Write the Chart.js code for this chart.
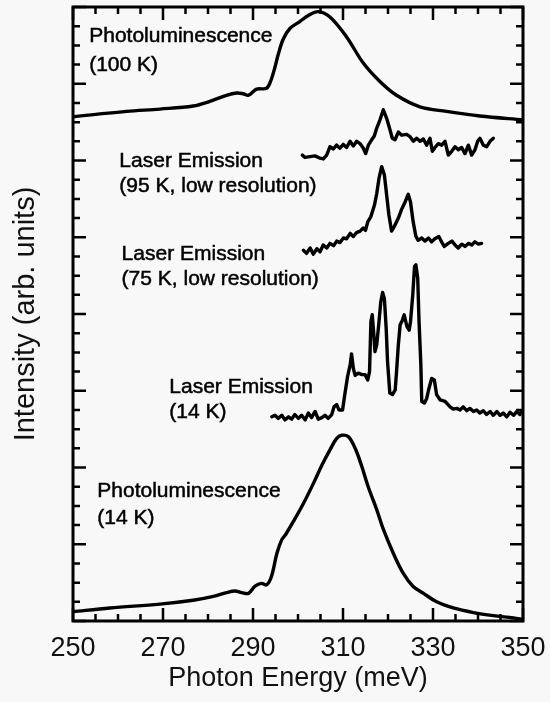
<!DOCTYPE html>
<html>
<head>
<meta charset="utf-8">
<script src="https://cdn.jsdelivr.net/npm/chart.js@4"></script>
<style>
    html, body { margin: 0; padding: 0; background: #f8f8f8; }
    #wrap { width: 550px; height: 702px; }
</style>
</head>
<body>
<div id="wrap"><canvas id="spectra" width="550" height="702"></canvas></div>
<script>

// Photoluminescence at 100 K (top curve)
var pl100Energy = [250, 261.9, 269.3, 276.7, 280.4, 284.1, 286.4, 287.8, 289.0, 290.8, 293.0, 293.9, 294.9, 295.6, 296.7, 298.2, 300.4, 302.3, 304.5, 307.1, 310.8, 314.5, 318.2, 321.9, 327.1, 333.0, 340.4, 350];
var pl100Intensity = [6.57, 6.64, 6.67, 6.71, 6.77, 6.85, 6.88, 6.87, 6.85, 6.93, 6.94, 7.03, 7.22, 7.38, 7.58, 7.72, 7.81, 7.89, 7.94, 7.87, 7.61, 7.27, 7.03, 6.85, 6.70, 6.64, 6.58, 6.53];

// Laser emission at 95 K, low resolution
var laser95Energy = [300.96, 301.56, 302.67, 303.78, 304.89, 305.63, 306.37, 307.11, 307.85, 308.59, 309.33, 310.07, 310.81, 311.56, 312.30, 313.04, 313.78, 314.52, 315.04, 315.63, 316.37, 316.96, 317.48, 318.22, 318.96, 319.70, 320.44, 320.96, 321.56, 322.30, 323.04, 324.15, 324.89, 325.63, 326.37, 327.11, 327.85, 328.59, 329.33, 329.85, 330.44, 331.19, 331.93, 332.67, 333.41, 334.15, 334.89, 335.63, 336.37, 337.11, 337.85, 338.59, 339.33, 339.93, 340.44, 341.19, 341.93, 342.67, 343.41];
var laser95Intensity = [6.07, 6.04, 6.05, 6.06, 6.03, 6.02, 6.07, 6.18, 6.15, 6.20, 6.16, 6.21, 6.17, 6.25, 6.19, 6.25, 6.22, 6.16, 6.09, 6.20, 6.27, 6.32, 6.42, 6.53, 6.66, 6.55, 6.40, 6.29, 6.27, 6.37, 6.33, 6.34, 6.31, 6.25, 6.29, 6.25, 6.28, 6.20, 6.29, 6.12, 6.17, 6.22, 6.20, 6.25, 6.07, 6.12, 6.18, 6.14, 6.17, 6.09, 6.20, 6.07, 6.14, 6.25, 6.29, 6.20, 6.18, 6.25, 6.29];

// Laser emission at 75 K, low resolution
var laser75Energy = [301.2, 301.9, 302.7, 303.4, 304.2, 304.9, 305.6, 306.4, 307.1, 307.9, 308.6, 309.3, 310.1, 310.8, 311.6, 312.3, 313.0, 313.8, 314.5, 315.0, 315.5, 316.2, 317.0, 317.5, 318.0, 318.6, 319.2, 319.7, 320.2, 320.8, 321.4, 322.3, 323.0, 323.8, 324.5, 325.0, 325.6, 326.2, 326.7, 327.5, 328.2, 329.0, 329.7, 330.4, 331.3, 331.9, 332.5, 333.4, 334.2, 334.9, 335.6, 336.4, 337.1, 337.9, 338.6, 339.3, 340.1, 340.8];
var laser75Intensity = [4.83, 4.79, 4.86, 4.78, 4.85, 4.81, 4.90, 4.86, 4.92, 4.89, 4.95, 4.93, 4.99, 4.98, 5.05, 5.01, 5.06, 5.08, 5.12, 5.09, 5.20, 5.27, 5.42, 5.57, 5.77, 5.92, 5.81, 5.55, 5.29, 5.08, 5.14, 5.25, 5.36, 5.46, 5.56, 5.46, 5.20, 5.01, 4.96, 4.99, 4.95, 4.99, 4.94, 4.98, 5.01, 4.94, 4.88, 4.92, 4.95, 4.90, 4.86, 4.91, 4.88, 4.92, 4.90, 4.94, 4.91, 4.92];

// Laser emission at 14 K
var laser14Energy = [294.2, 294.9, 295.6, 296.4, 297.1, 297.9, 298.6, 299.3, 300.1, 300.8, 301.6, 302.3, 303.0, 303.8, 304.5, 305.3, 306.0, 306.7, 307.5, 308.0, 308.6, 309.1, 309.9, 310.4, 311.0, 311.6, 311.9, 312.3, 312.7, 313.4, 314.2, 314.9, 315.5, 315.9, 316.2, 316.5, 316.8, 317.1, 317.5, 318.0, 318.4, 318.8, 319.2, 319.6, 319.9, 320.4, 321.0, 321.6, 321.9, 322.3, 322.7, 323.2, 323.6, 324.2, 324.7, 325.0, 325.5, 325.9, 326.2, 326.6, 326.9, 327.3, 327.5, 328.1, 328.6, 329.1, 329.7, 330.3, 330.8, 331.6, 332.7, 333.8, 334.5, 335.3, 336.0, 336.7, 337.5, 338.2, 339.0, 339.7, 340.4, 341.2, 341.9, 342.7, 343.4, 344.2, 344.9, 345.6, 346.4, 347.1, 347.9, 348.6, 349.3, 349.7];
var laser14Intensity = [2.66, 2.68, 2.64, 2.68, 2.62, 2.66, 2.63, 2.69, 2.64, 2.68, 2.62, 2.71, 2.65, 2.73, 2.63, 2.65, 2.68, 2.64, 2.69, 2.79, 2.82, 2.75, 2.75, 2.95, 3.18, 3.34, 3.48, 3.29, 3.20, 3.23, 3.21, 3.21, 3.14, 3.25, 3.90, 3.99, 3.77, 3.51, 3.60, 3.90, 4.16, 4.28, 4.20, 3.81, 3.38, 2.97, 2.95, 3.01, 3.25, 3.60, 3.86, 3.92, 3.99, 3.84, 3.79, 3.90, 4.25, 4.62, 4.64, 4.47, 3.90, 3.34, 2.86, 2.84, 2.90, 3.03, 3.16, 3.14, 2.95, 2.88, 2.86, 2.79, 2.76, 2.77, 2.75, 2.79, 2.74, 2.77, 2.73, 2.75, 2.71, 2.74, 2.69, 2.73, 2.68, 2.73, 2.68, 2.71, 2.66, 2.72, 2.68, 2.73, 2.69, 2.73];

// Photoluminescence at 14 K (bottom curve)
var pl14Energy = [250, 258.2, 269.3, 276.7, 281.2, 284.1, 286.0, 287.5, 289.0, 290.4, 291.9, 293.0, 294.1, 295.3, 296.4, 297.3, 299.3, 301.2, 303.4, 305.3, 307.1, 308.6, 309.7, 311.2, 312.7, 314.2, 315.6, 317.5, 319.0, 321.2, 323.4, 325.6, 327.9, 330.8, 334.5, 339.0, 343.4, 347.9, 350];
var pl14Intensity = [0.12, 0.17, 0.22, 0.27, 0.32, 0.37, 0.39, 0.37, 0.36, 0.45, 0.49, 0.47, 0.58, 0.88, 1.06, 1.13, 1.33, 1.53, 1.79, 2.03, 2.23, 2.38, 2.42, 2.40, 2.25, 2.01, 1.75, 1.45, 1.19, 0.88, 0.62, 0.45, 0.36, 0.25, 0.17, 0.11, 0.07, 0.04, 0.02];

var energyTickLabels = [250, 270, 290, 310, 330, 350];

// Curve captions, anchored at (energy, intensity) of each line's left baseline
var captionTexts = ['Photoluminescence', '(100 K)', 'Laser Emission', '(95 K, low resolution)', 'Laser Emission', '(75 K, low resolution)', 'Laser Emission', '(14 K)', 'Photoluminescence', '(14 K)'];
var captionEnergy = [253.6, 253.6, 260.3, 260.3, 260.8, 260.8, 271.4, 271.4, 255.4, 255.4];
var captionIntensity = [7.55, 7.16, 5.92, 5.59, 4.70, 4.38, 2.97, 2.64, 1.62, 1.26];

var fontFamily = '"Liberation Sans", Arial, Helvetica, sans-serif';

var toPoints = function (xs, ys) {
    return xs.map(function (x, i) {
        return { x: x, y: ys[i] };
    });
};

var curve = function (xs, ys, smooth) {
    return {
        data: toPoints(xs, ys),
        showLine: true,
        borderColor: '#000',
        borderWidth: 3.4,
        pointRadius: 0,
        tension: smooth ? 0.35 : 0,
        borderJoinStyle: 'round',
        borderCapStyle: 'round'
    };
};

var isMajor = function (v, start, step) {
    var r = (v - start) / step;
    return Math.abs(r - Math.round(r)) < 1e-6;
};

// Inward tick marks on all four sides of the box, plus the box itself
var frameTicks = {
    id: 'frameTicks',
    afterDatasetsDraw: function (chart) {
        var ctx = chart.ctx;
        var area = chart.chartArea;
        var xs = chart.scales.x;
        var ys = chart.scales.y;

        ctx.save();
        ctx.strokeStyle = '#000';
        ctx.lineWidth = 2.5;
        ctx.beginPath();
        xs.ticks.forEach(function (t) {
            var px = xs.getPixelForValue(t.value);
            var len = isMajor(t.value, 250, 20) ? 13 : 7;
            ctx.moveTo(px, area.bottom);
            ctx.lineTo(px, area.bottom - len);
            ctx.moveTo(px, area.top);
            ctx.lineTo(px, area.top + len);
        });
        ys.ticks.forEach(function (t) {
            var py = ys.getPixelForValue(t.value);
            var len = isMajor(t.value, 0, 1) ? 13 : 7;
            ctx.moveTo(area.left, py);
            ctx.lineTo(area.left + len, py);
            ctx.moveTo(area.right, py);
            ctx.lineTo(area.right - len, py);
        });
        ctx.stroke();

        ctx.lineWidth = 3;
        ctx.strokeRect(area.left, area.top, area.right - area.left, area.bottom - area.top);
        ctx.restore();
    }
};

// Scanned captions look heavier than plain text, so add a hairline stroke
var captions = {
    id: 'captions',
    afterDatasetsDraw: function (chart) {
        var ctx = chart.ctx;
        var xs = chart.scales.x;
        var ys = chart.scales.y;

        ctx.save();
        ctx.fillStyle = '#000';
        ctx.strokeStyle = '#000';
        ctx.lineWidth = 0.5;
        ctx.font = '21px ' + fontFamily;
        ctx.textAlign = 'left';
        ctx.textBaseline = 'alphabetic';
        captionTexts.forEach(function (text, i) {
            var px = xs.getPixelForValue(captionEnergy[i]);
            var py = ys.getPixelForValue(captionIntensity[i]);
            ctx.fillText(text, px, py);
            ctx.strokeText(text, px, py);
        });
        ctx.restore();
    }
};

var config = {
    type: 'scatter',
    data: {
        datasets: [
            curve(pl100Energy, pl100Intensity, true),
            curve(laser95Energy, laser95Intensity, false),
            curve(laser75Energy, laser75Intensity, false),
            curve(laser14Energy, laser14Intensity, false),
            curve(pl14Energy, pl14Intensity, true)
        ]
    },
    options: {
        responsive: false,
        animation: false,
        devicePixelRatio: 1,
        layout: {
            padding: { left: 0, right: 27, top: 7, bottom: 0 }
        },
        plugins: {
            legend: { display: false },
            tooltip: { enabled: false }
        },
        scales: {
            x: {
                type: 'linear',
                min: 250,
                max: 350,
                afterFit: function (scale) {
                    scale.height = 81;
                },
                border: { display: false },
                grid: { display: false, drawTicks: false },
                ticks: {
                    stepSize: 5,
                    autoSkip: false,
                    maxRotation: 0,
                    // labels pushed down via lineHeight so the right edge keeps no extra padding
                    padding: 0,
                    color: '#111',
                    font: { family: fontFamily, size: 27, lineHeight: 2.02 },
                    callback: function (value) {
                        return energyTickLabels.indexOf(value) >= 0 ? String(value) : '';
                    }
                },
                title: {
                    display: true,
                    text: 'Photon Energy (meV)',
                    color: '#111',
                    font: { family: fontFamily, size: 27 },
                    padding: { top: 0, bottom: 7 }
                }
            },
            y: {
                type: 'linear',
                min: 0,
                max: 8,
                afterFit: function (scale) {
                    scale.width = 73;
                },
                border: { display: false },
                grid: { display: false, drawTicks: false },
                ticks: {
                    stepSize: 0.25,
                    display: false
                },
                title: {
                    display: true,
                    text: 'Intensity (arb. units)',
                    color: '#111',
                    font: { family: fontFamily, size: 29 },
                    padding: { top: 9, bottom: 0 }
                }
            }
        }
    },
    plugins: [frameTicks, captions]
};

var ctx = document.getElementById('spectra').getContext('2d');
var spectraChart = new Chart(ctx, config);

</script>
</body>
</html>
